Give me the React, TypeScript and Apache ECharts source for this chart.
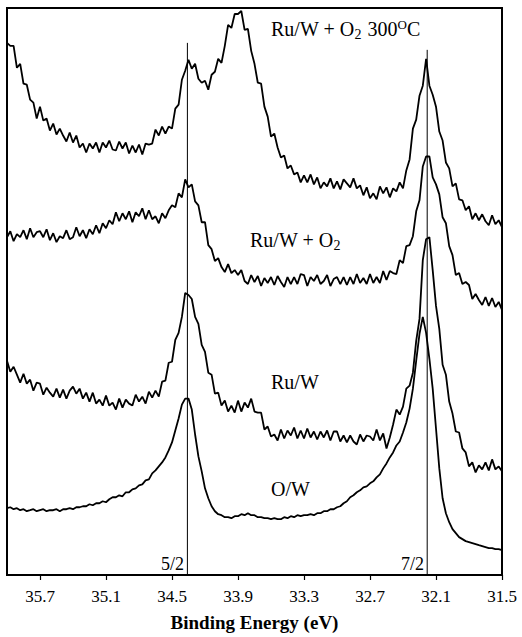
import React, { useEffect, useRef } from "react";
import * as echarts from "echarts";

// Binding energy grid (eV)
const energy = [
  36.00,35.97,35.94,35.91,35.88,35.85,35.82,35.79,35.76,35.73,
  35.70,35.67,35.64,35.61,35.58,35.55,35.52,35.49,35.46,35.43,
  35.40,35.37,35.34,35.31,35.28,35.25,35.22,35.19,35.16,35.13,
  35.10,35.07,35.04,35.01,34.98,34.95,34.92,34.89,34.86,34.83,
  34.80,34.77,34.74,34.71,34.68,34.65,34.62,34.59,34.56,34.53,
  34.50,34.47,34.44,34.41,34.38,34.35,34.32,34.29,34.26,34.23,
  34.20,34.17,34.14,34.11,34.08,34.05,34.02,33.99,33.96,33.93,
  33.90,33.87,33.84,33.81,33.78,33.75,33.72,33.69,33.66,33.63,
  33.60,33.57,33.54,33.51,33.48,33.45,33.42,33.39,33.36,33.33,
  33.30,33.27,33.24,33.21,33.18,33.15,33.12,33.09,33.06,33.03,
  33.00,32.97,32.94,32.91,32.88,32.85,32.82,32.79,32.76,32.73,
  32.70,32.67,32.64,32.61,32.58,32.55,32.52,32.49,32.46,32.43,
  32.40,32.37,32.34,32.31,32.28,32.25,32.22,32.19,32.16,32.13,
  32.10,32.07,32.04,32.01,31.98,31.95,31.92,31.89,31.86,31.83,
  31.80,31.77,31.74,31.71,31.68,31.65,31.62,31.59,31.56,31.53,
  31.50,
];

// Ru/W + O2 300°C (offset intensity, a.u.)
const ruwO2_300 = [
  534,531,531,509,513,493,492,477,474,458,
  470,456,458,446,453,442,448,441,435,444,
  434,441,429,433,424,433,428,434,424,434,
  429,436,427,426,435,428,434,423,431,424,
  432,422,433,432,433,447,441,450,443,450,
  448,468,472,497,506,517,508,513,498,494,
  496,487,502,505,518,514,531,552,549,563,
  563,566,547,548,526,513,494,493,470,460,
  440,443,429,419,421,408,411,402,404,394,
  401,394,402,392,399,388,394,390,398,388,
  395,387,397,393,389,398,388,391,381,389,
  378,383,377,390,383,389,379,388,385,394,
  388,406,417,448,457,481,491,518,491,482,
  470,445,436,414,408,390,393,377,376,366,
  370,357,363,356,362,355,351,361,352,356,
  349,
];

// Ru/W + O2
const ruwO2 = [
  339,345,335,342,339,346,337,348,339,344,
  345,339,347,336,343,334,340,338,346,337,
  339,349,340,346,338,347,342,351,343,353,
  348,356,352,364,355,363,357,365,354,364,
  360,368,357,366,357,360,353,363,358,366,
  371,369,383,379,397,389,392,375,371,354,
  354,331,327,315,318,309,304,312,303,306,
  301,306,295,292,301,294,300,290,298,293,
  299,291,300,294,289,299,292,299,292,302,
  301,290,299,295,301,292,295,301,290,297,
  299,292,299,291,299,292,302,293,298,292,
  302,293,299,293,305,296,305,303,302,316,
  313,330,331,340,365,376,410,420,420,399,
  392,382,359,353,330,321,301,303,292,294,
  291,277,282,276,271,279,270,278,269,274,
  266,
];

// Ru/W
const ruw = [
  215,204,209,201,193,202,192,196,185,193,
  192,181,188,183,179,187,178,186,177,185,
  189,182,187,177,183,174,183,172,176,170,
  180,170,173,166,177,168,176,172,170,181,
  174,179,172,184,178,185,179,194,195,213,
  214,236,243,259,283,281,277,259,252,231,
  224,203,201,182,183,170,175,164,170,163,
  175,164,173,168,177,164,163,163,146,149,
  139,141,135,146,137,145,140,148,137,145,
  137,147,138,144,136,144,138,145,135,144,
  144,134,140,133,140,134,131,141,134,140,
  139,135,146,135,142,127,138,151,166,161,
  169,187,190,203,235,257,316,337,339,306,
  270,247,211,201,174,162,144,143,127,123,
  109,113,103,110,106,113,105,116,106,109,
  104,
];

// O/W
const ow = [
  67,68,66,67,65,66,64,65,66,64,
  65,66,64,65,65,66,64,66,66,67,
  66,68,68,69,69,71,70,72,72,74,
  73,76,78,78,80,79,83,83,86,87,
  90,91,95,96,102,105,109,113,118,125,
  133,145,157,171,177,177,166,141,119,104,
  87,77,69,64,61,60,58,58,57,59,
  59,61,60,62,60,60,58,58,57,57,
  56,57,56,56,58,57,59,58,60,59,
  60,60,61,60,62,62,64,64,66,66,
  68,69,72,74,78,80,83,85,88,89,
  92,94,98,101,107,112,118,123,130,134,
  143,153,167,187,215,242,259,243,217,187,
  147,107,77,62,53,46,42,38,36,34,
  33,32,31,30,29,28,27,27,26,26,
  25,
];

// Spin-orbit reference lines (eV) and their top heights
const refEnergies = [34.36, 32.18];
const refTops = [534, 527];
const refLabels = ["5/2", "7/2"];

const xTicks = { min: 31.5, max: 36.0, interval: 0.6 };

const SERIF = "Times New Roman, Liberation Serif, serif";

function zip(vals: number[]) {
  return energy.map((e, i) => [e, vals[i]]);
}

export default function App() {
  const ref = useRef<HTMLDivElement>(null);
  useEffect(() => {
    if (!ref.current) return;
    const chart = echarts.init(ref.current, undefined, { renderer: "svg" });
    const curve = (name: string, vals: number[]) => ({
      name,
      type: "line",
      data: zip(vals),
      symbol: "none",
      showSymbol: false,
      lineStyle: { color: "#000", width: 1.8 },
      z: 3,
    });
    const refLine = (k: number) => ({
      name: "ref" + k,
      type: "line",
      data: [
        [refEnergies[k], 0],
        [refEnergies[k], refTops[k]],
      ],
      symbol: "none",
      lineStyle: { color: "#000", width: 1 },
      z: 2,
    });
    const labelStyle = {
      fontFamily: SERIF,
      fontSize: 20,
      fill: "#000",
    };
    chart.setOption({
      animation: false,
      backgroundColor: "#fff",
      textStyle: { fontFamily: SERIF },
      grid: {
        left: 7,
        right: 20,
        top: 8,
        bottom: 60,
        show: true,
        borderColor: "#000",
        borderWidth: 2,
        backgroundColor: "transparent",
      },
      xAxis: {
        type: "value",
        min: xTicks.min,
        max: xTicks.max,
        interval: xTicks.interval,
        inverse: true,
        axisLine: { show: true, lineStyle: { color: "#000", width: 2 } },
        axisTick: { show: true, length: 5, lineStyle: { color: "#000", width: 1.2 } },
        axisLabel: {
          color: "#000",
          fontFamily: SERIF,
          fontSize: 17,
          margin: 13,
          showMaxLabel: false,
          formatter: (v: number) => v.toFixed(1),
        },
        splitLine: { show: false },
        name: "Binding Energy (eV)",
        nameLocation: "middle",
        nameGap: 38,
        nameTextStyle: {
          color: "#000",
          fontFamily: SERIF,
          fontSize: 19,
          fontWeight: "bold",
        },
      },
      yAxis: {
        type: "value",
        min: 0,
        max: 569,
        show: false,
      },
      series: [
        curve("Ru/W + O2 300°C", ruwO2_300),
        curve("Ru/W + O2", ruwO2),
        curve("Ru/W", ruw),
        curve("O/W", ow),
        refLine(0),
        refLine(1),
      ],
      graphic: [
        {
          type: "text",
          x: 271,
          y: 17,
          style: {
            text: "Ru/W + O{sub|2} 300{sup|O}C",
            ...labelStyle,
            rich: {
              sub: { fontFamily: SERIF, fontSize: 14, padding: [10, 1, 0, 0] },
              sup: { fontFamily: SERIF, fontSize: 13, padding: [0, 0, 10, 0] },
            },
          },
        },
        {
          type: "text",
          x: 250,
          y: 228,
          style: {
            text: "Ru/W + O{sub|2}",
            ...labelStyle,
            rich: {
              sub: { fontFamily: SERIF, fontSize: 14, padding: [10, 0, 0, 0] },
            },
          },
        },
        {
          type: "text",
          x: 271,
          y: 382,
          style: { text: "Ru/W", ...labelStyle, verticalAlign: "middle" },
        },
        {
          type: "text",
          x: 271,
          y: 489,
          style: { text: "O/W", ...labelStyle, verticalAlign: "middle" },
        },
        {
          type: "text",
          x: 184,
          y: 564,
          style: {
            text: refLabels[0],
            fontFamily: SERIF,
            fontSize: 18,
            fill: "#000",
            align: "right",
            verticalAlign: "middle",
          },
        },
        {
          type: "text",
          x: 424,
          y: 564,
          style: {
            text: refLabels[1],
            fontFamily: SERIF,
            fontSize: 18,
            fill: "#000",
            align: "right",
            verticalAlign: "middle",
          },
        },
      ],
    });
    return () => chart.dispose();
  }, []);
  return (
    <div
      ref={ref}
      style={{ position: "absolute", left: 0, top: 0, width: 522, height: 637 }}
    />
  );
}
